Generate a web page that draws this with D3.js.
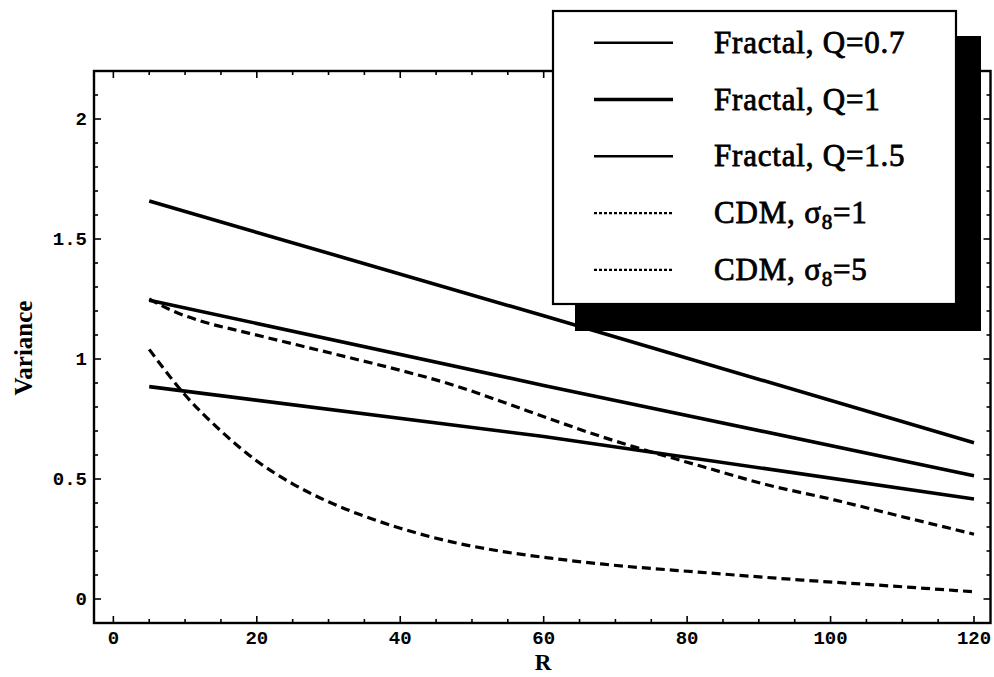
<!DOCTYPE html>
<html>
<head>
<meta charset="utf-8">
<script src="https://cdn.jsdelivr.net/npm/d3@7"></script>
<style>
  html, body { margin: 0; padding: 0; background: #fff; }
  svg { display: block; }
</style>
</head>
<body>
<svg id="chart" width="994" height="677"></svg>
<script>
// ---- data ----
const xTicks = [0, 20, 40, 60, 80, 100, 120];
const yTicks = [0, 0.5, 1, 1.5, 2];
const yTickLabels = ["0", "0.5", "1", "1.5", "2"];

const fractalQ07R = [5, 60, 120];
const fractalQ07V = [1.658, 1.18, 0.651];

const fractalQ1R = [5, 60, 120];
const fractalQ1V = [1.245, 0.89, 0.514];

const fractalQ15R = [5, 60, 120];
const fractalQ15V = [0.885, 0.677, 0.417];

const cdm1R = [5, 8, 12, 19, 26, 33, 40, 47, 54, 61, 68, 72.5, 82, 91, 100.5, 110, 120];
const cdm1V = [1.25, 1.204, 1.16, 1.107, 1.056, 1.005, 0.953, 0.895, 0.824, 0.749, 0.677, 0.635, 0.553, 0.477, 0.413, 0.343, 0.27];

const cdm5R = [5, 10, 15, 20, 25, 30, 35, 40, 47, 54, 61, 68, 82, 96, 110, 120];
const cdm5V = [1.04, 0.85, 0.70, 0.575, 0.48, 0.405, 0.345, 0.295, 0.239, 0.199, 0.170, 0.146, 0.111, 0.079, 0.051, 0.03];

const legendLabels = ["Fractal, Q=0.7", "Fractal, Q=1", "Fractal, Q=1.5", "CDM, σ8=1", "CDM, σ8=5"];

// ---- layout ----
const svg = d3.select("#chart");
const frame = { left: 94, right: 990.5, top: 71, bottom: 623 };

const x = d3.scaleLinear().domain([-2.7, 122.3]).range([frame.left, frame.right]);
const y = d3.scaleLinear().domain([-0.1, 2.2]).range([frame.bottom, frame.top]);

const series = [
  { R: fractalQ07R, V: fractalQ07V, dash: null, w: 3.6, curve: d3.curveLinear },
  { R: fractalQ1R, V: fractalQ1V, dash: null, w: 3.6, curve: d3.curveLinear },
  { R: fractalQ15R, V: fractalQ15V, dash: null, w: 3.6, curve: d3.curveLinear },
  { R: cdm1R, V: cdm1V, dash: "9,5", w: 3.2, curve: d3.curveMonotoneX },
  { R: cdm5R, V: cdm5V, dash: "9,5", w: 3.2, curve: d3.curveMonotoneX }
];

const gLines = svg.append("g");
series.forEach(s => {
  const line = d3.line().x(d => x(d[0])).y(d => y(d[1])).curve(s.curve);
  gLines.append("path")
    .attr("d", line(d3.zip(s.R, s.V)))
    .attr("fill", "none")
    .attr("stroke", "#000")
    .attr("stroke-width", s.w)
    .attr("stroke-dasharray", s.dash)
    .attr("stroke-linecap", "butt");
});

// ---- frame with inward ticks on all sides ----
const gFrame = svg.append("g");
gFrame.append("rect")
  .attr("x", frame.left).attr("y", frame.top)
  .attr("width", frame.right - frame.left).attr("height", frame.bottom - frame.top)
  .attr("fill", "none").attr("stroke", "#000").attr("stroke-width", 2.4);

const xMinor = d3.range(0, 121, 5).filter(v => !xTicks.includes(v));
const yMinor = d3.range(-0.1, 2.201, 0.1).map(v => +v.toFixed(2)).filter(v => !yTicks.includes(v));

function tickSet(vals, len) {
  vals.forEach(v => {
    const px = x(v);
    gFrame.append("line").attr("x1", px).attr("x2", px).attr("y1", frame.bottom).attr("y2", frame.bottom - len)
      .attr("stroke", "#000").attr("stroke-width", 1.6);
    gFrame.append("line").attr("x1", px).attr("x2", px).attr("y1", frame.top).attr("y2", frame.top + len)
      .attr("stroke", "#000").attr("stroke-width", 1.6);
  });
}
function tickSetY(vals, len) {
  vals.forEach(v => {
    const py = y(v);
    gFrame.append("line").attr("x1", frame.left).attr("x2", frame.left + len).attr("y1", py).attr("y2", py)
      .attr("stroke", "#000").attr("stroke-width", 1.6);
    gFrame.append("line").attr("x1", frame.right).attr("x2", frame.right - len).attr("y1", py).attr("y2", py)
      .attr("stroke", "#000").attr("stroke-width", 1.6);
  });
}
tickSet(xTicks, 7);
tickSet(xMinor, 4);
tickSetY(yTicks, 7);
tickSetY(yMinor, 4);

// tick labels
const tickFont = "'Liberation Mono', 'Courier New', monospace";
xTicks.forEach(v => {
  svg.append("text").attr("x", x(v)).attr("y", 644)
    .attr("text-anchor", "middle").attr("font-family", tickFont).attr("font-weight", "bold")
    .attr("font-size", 19).text(String(v));
});
yTicks.forEach((v, i) => {
  svg.append("text").attr("x", 87).attr("y", y(v) + 6)
    .attr("text-anchor", "end").attr("font-family", tickFont).attr("font-weight", "bold")
    .attr("font-size", 19).text(yTickLabels[i]);
});

// axis labels
const serif = "'Liberation Serif', 'Times New Roman', serif";
svg.append("text").attr("x", 543).attr("y", 670).attr("text-anchor", "middle")
  .attr("font-family", serif).attr("font-weight", "bold").attr("font-size", 23).text("R");
svg.append("text").attr("transform", "translate(32,348) rotate(-90)").attr("text-anchor", "middle")
  .attr("font-family", serif).attr("font-weight", "bold").attr("font-size", 25).text("Variance");

// ---- legend ----
const lg = svg.append("g");
lg.append("rect").attr("x", 575).attr("y", 36).attr("width", 406).attr("height", 295).attr("fill", "#000");
lg.append("rect").attr("x", 553).attr("y", 11).attr("width", 403).attr("height", 293)
  .attr("fill", "#fff").attr("stroke", "#000").attr("stroke-width", 2.2);

const legendStyles = [
  { w: 2.4, dash: null },
  { w: 3.6, dash: null },
  { w: 2.4, dash: null },
  { w: 2.2, dash: "3,2" },
  { w: 2.2, dash: "3,2" }
];
legendLabels.forEach((lab, i) => {
  const ry = 42.7 + i * 56.8;
  lg.append("line").attr("x1", 594).attr("x2", 673).attr("y1", ry).attr("y2", ry)
    .attr("stroke", "#000").attr("stroke-width", legendStyles[i].w)
    .attr("stroke-dasharray", legendStyles[i].dash);
  const t = lg.append("text").attr("x", 714).attr("y", ry + 10)
    .attr("font-family", serif).attr("font-size", 31).attr("letter-spacing", 0.8)
    .attr("stroke", "#000").attr("stroke-width", 0.8);
  if (lab.includes("σ8")) {
    const parts = lab.split("σ8");
    t.append("tspan").text(parts[0] + "σ");
    t.append("tspan").attr("font-size", 21).attr("dy", 6).text("8");
    t.append("tspan").attr("dy", -6).text(parts[1]);
  } else {
    t.text(lab);
  }
});
</script>
</body>
</html>
